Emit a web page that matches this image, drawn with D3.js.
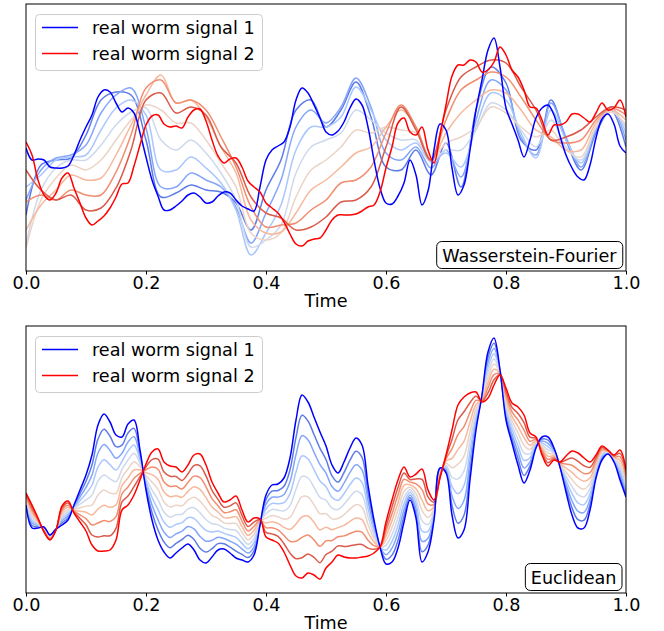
<!DOCTYPE html>
<html><head><meta charset="utf-8">
<script src="https://cdn.jsdelivr.net/npm/d3@7"></script>
<style>body{margin:0;background:#fff;} svg{display:block;font-family:"DejaVu Sans",sans-serif;}</style>
</head><body><svg id="chart" width="664" height="631"></svg>
<script>
// ---------------- data (amplitude in arbitrary units) ----------------
const timeTicks = [0, 0.2, 0.4, 0.6, 0.8, 1.0];
const tickLabels = ["0.0", "0.2", "0.4", "0.6", "0.8", "1.0"];
const legendLabels = ["real worm signal 1", "real worm signal 2"];
const panelTitles = ["Wasserstein-Fourier", "Euclidean"];
const xLabel = "Time";

// signals sampled every 0.01 in time (101 samples)
const wfSignal1 = [123,111,112,111,104,103,103,105,116,131,
  144,156,174,181,179,168,159,163,158,138,
  114,91,75,61,61,65,70,76,78,74,
  68,69,75,79,78,71,65,62,60,84,
  111,121,125,129,144,171,183,178,166,153,
  139,136,140,149,163,172,166,144,111,83,
  68,67,75,88,111,96,66,80,121,147,
  141,103,76,86,121,161,191,221,233,204,
  163,147,131,114,131,153,163,166,156,135,
  116,103,94,91,106,133,152,157,147,125,118];
const wfSignal2 = [129,116,91,76,71,78,93,98,83,68,
  53,46,50,55,63,74,87,88,105,126,
  146,155,156,147,144,145,143,154,161,162,
  150,131,115,108,112,113,104,90,84,79,
  68,63,58,49,37,27,25,30,32,33,
  41,51,56,56,56,57,60,64,66,79,
  103,124,148,153,139,136,144,121,108,136,
  166,195,206,206,211,209,199,201,209,224,
  216,201,194,181,164,163,151,136,146,146,
  149,157,157,153,149,158,168,161,163,171,154];
const euSignal1 = [88,65,65,66,58,64,68,73,88,103,
  118,138,168,179,171,158,156,169,173,143,
  103,73,53,41,35,40,45,49,43,33,
  30,36,43,44,40,35,33,31,38,68,
  98,108,109,115,135,173,198,191,176,161,
  147,128,120,131,145,155,148,108,73,46,
  29,31,45,71,93,75,31,41,73,125,
  120,78,55,63,113,163,198,241,255,223,
  173,150,128,110,123,145,156,156,145,126,
  101,78,65,65,83,115,133,139,131,113,96];
const euSignal2 = [100,88,75,61,53,63,87,92,80,71,
  62,48,42,42,43,53,83,88,98,113,
  129,141,144,131,127,126,121,128,138,139,
  128,111,100,91,93,97,83,71,75,74,
  56,53,50,41,28,17,15,20,18,14,
  25,31,38,36,35,35,36,37,40,46,
  71,93,113,126,116,119,124,103,93,115,
  138,163,188,196,200,201,191,195,208,218,
  205,190,186,178,160,156,138,127,133,131,
  137,142,140,135,131,138,147,143,138,143,123];

// Wasserstein-Fourier interpolants, sampled every 0.025 in time (41 samples)
const wfMix1 = [56,106,111,113,136,171,179,176,131,74,78,86,81,79,68,41,81,111,161,171,144,161,189,154,104,101,121,96,128,84,161,204,188,131,121,171,131,101,138,161,124];
const wfMix2 = [71,101,113,116,126,158,176,183,143,84,84,98,91,84,64,28,58,91,144,161,148,164,193,164,118,111,124,103,121,94,151,191,181,134,116,168,134,104,141,164,131];
const wfMix3 = [84,96,111,114,116,141,163,171,156,101,101,114,103,88,61,16,38,66,121,144,144,154,184,161,131,121,128,109,118,104,144,178,171,138,113,161,131,108,144,164,138];
const wfMix4 = [26,81,103,111,111,126,146,159,163,131,121,131,118,98,71,24,31,46,98,124,131,138,161,151,138,131,131,111,121,121,141,168,161,141,124,151,124,111,144,161,143];
const wfMix5 = [23,71,93,106,101,111,131,151,166,161,148,148,131,108,84,38,31,38,74,101,111,124,141,138,144,141,138,111,128,134,144,164,158,144,134,141,121,114,144,159,146];
const wfMix6 = [41,66,81,96,91,93,116,146,176,196,168,171,154,124,98,51,38,39,58,81,91,104,118,124,144,161,144,111,138,158,171,181,178,161,141,134,121,121,148,161,151];
const wfMix7 = [69,76,71,81,76,76,99,136,183,191,168,171,161,134,104,64,44,46,48,61,71,88,91,104,138,166,144,111,151,181,191,199,194,174,151,131,128,131,151,163,156];
const wfMix8 = [101,81,71,76,61,63,83,121,171,178,158,164,156,124,108,74,58,53,41,44,54,69,71,84,124,164,141,111,161,194,204,211,208,184,161,131,134,141,154,164,161];

// Euclidean interpolation weights (10 curves from signal 1 to signal 2)
const mixWeights = [0, 1/9, 2/9, 3/9, 4/9, 5/9, 6/9, 7/9, 8/9, 1];

// ---------------- drawing ----------------
const svg = d3.select("#chart");
const FS = 17.6;
const mixColors = ["#0000ff", "rgb(93,124,230)", "rgb(131,166,251)", "rgb(170,199,254)", "rgb(206,217,236)",
  "rgb(235,212,199)", "rgb(247,184,156)", "rgb(241,142,112)", "rgb(218,89,72)", "#ff0000"];

const x = d3.scaleLinear().domain([0, 1]).range([26, 626]);
const panels = [{top: 4, bottom: 271}, {top: 326, bottom: 593}];
const ampDomain = [0, 267];

function drawPanel(p, idx, curves) {
  const y = d3.scaleLinear().domain(ampDomain).range([p.bottom, p.top]);
  const g = svg.append("g");
  const clipId = "clip" + idx;
  svg.append("clipPath").attr("id", clipId).append("rect")
    .attr("x", x(0)).attr("y", p.top).attr("width", x(1) - x(0)).attr("height", p.bottom - p.top);
  const lineG = g.append("g").attr("clip-path", `url(#${clipId})`);
  const line = d3.line().x(d => x(d[0])).y(d => y(d[1])).curve(d3.curveCatmullRom.alpha(0.5));
  curves.forEach(c => {
    lineG.append("path").attr("d", line(c.pts)).attr("fill", "none")
      .attr("stroke", c.color).attr("stroke-width", 1.5).attr("stroke-linejoin", "round");
  });
  // frame
  g.append("rect").attr("x", x(0)).attr("y", p.top).attr("width", x(1) - x(0)).attr("height", p.bottom - p.top)
    .attr("fill", "none").attr("stroke", "#000").attr("stroke-width", 1);
  // x axis
  const ax = g.append("g").attr("transform", `translate(0,${p.bottom})`)
    .call(d3.axisBottom(x).tickValues(timeTicks).tickFormat((d, i) => tickLabels[i]).tickSize(3.5).tickPadding(2.5).tickSizeOuter(0));
  ax.select(".domain").remove();
  ax.selectAll("text").attr("font-size", FS).attr("font-family", "DejaVu Sans").attr("fill", "#000");
  ax.selectAll("line").attr("stroke", "#000");
  g.append("text").attr("x", (x(0) + x(1)) / 2).attr("y", p.bottom + 35.5).attr("text-anchor", "middle")
    .attr("font-size", FS).text(xLabel);
  // legend
  const lg = g.append("g").attr("transform", `translate(0,${p.top})`);
  lg.append("rect").attr("x", 35.5).attr("y", 10.5).attr("width", 227).attr("height", 56).attr("rx", 4)
    .attr("fill", "#fff").attr("fill-opacity", 0.8).attr("stroke", "#ccc");
  legendLabels.forEach((t, i) => {
    const yy = 23.5 + i * 26;
    lg.append("line").attr("x1", 42).attr("x2", 78).attr("y1", yy).attr("y2", yy)
      .attr("stroke", i === 0 ? mixColors[0] : mixColors[9]).attr("stroke-width", 1.5);
    lg.append("text").attr("x", 92).attr("y", yy + 6.3).attr("font-size", FS).text(t);
  });
  // title box
  const tb = g.append("g");
  const txt = tb.append("text").attr("font-size", FS).attr("text-anchor", "end")
    .attr("x", 616.5).attr("y", p.bottom - 9.5).text(panelTitles[idx]);
  const bb = txt.node().getBBox();
  tb.insert("rect", "text").attr("x", bb.x - 5.5).attr("y", p.bottom - 29.5).attr("width", bb.width + 11).attr("height", 27)
    .attr("rx", 5).attr("fill", "#fff").attr("stroke", "#000").attr("stroke-width", 1);
}

// WF panel curves
const t101 = d3.range(101).map(i => i / 100);
const t41 = d3.range(41).map(i => i / 40);
const wfMixes = [wfMix1, wfMix2, wfMix3, wfMix4, wfMix5, wfMix6, wfMix7, wfMix8];
const wfCurves = [];
wfMixes.forEach((m, i) => wfCurves.push({pts: m.map((v, k) => [t41[k], v]), color: mixColors[i + 1]}));
wfCurves.push({pts: wfSignal1.map((v, k) => [t101[k], v]), color: mixColors[0]});
wfCurves.push({pts: wfSignal2.map((v, k) => [t101[k], v]), color: mixColors[9]});
drawPanel(panels[0], 0, wfCurves);

// Euclidean panel curves
const euCurves = [];
mixWeights.forEach((w, i) => {
  if (i === 0 || i === 9) return;
  euCurves.push({pts: euSignal1.map((v, k) => [t101[k], (1 - w) * v + w * euSignal2[k]]), color: mixColors[i]});
});
euCurves.push({pts: euSignal1.map((v, k) => [t101[k], v]), color: mixColors[0]});
euCurves.push({pts: euSignal2.map((v, k) => [t101[k], v]), color: mixColors[9]});
drawPanel(panels[1], 1, euCurves);
</script></body></html>
